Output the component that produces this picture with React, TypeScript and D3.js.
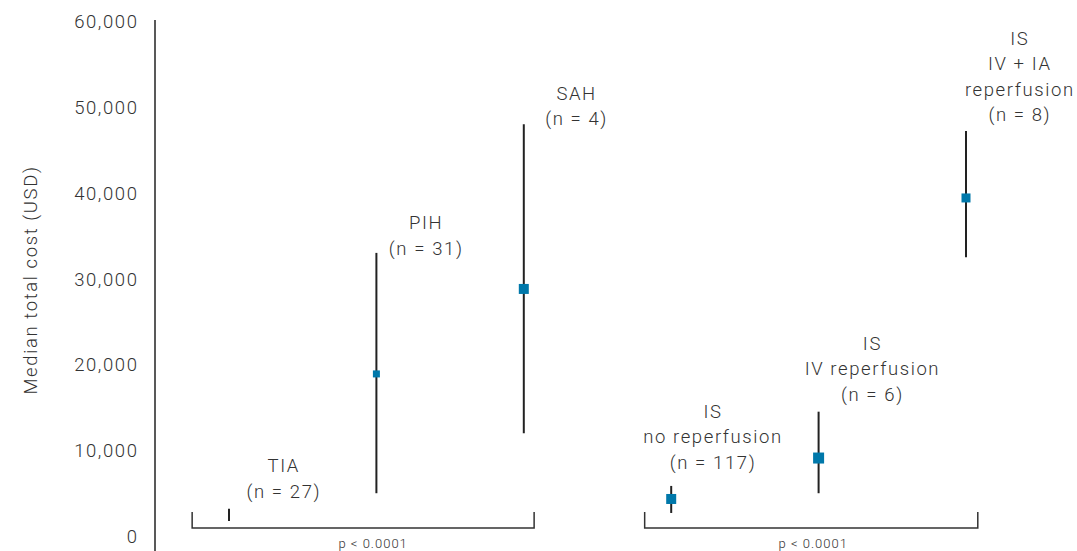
import React from "react";
import * as d3 from "d3";

// ---- data ----
const categories = ["TIA", "PIH", "SAH", "IS no reperfusion", "IS IV reperfusion", "IS IV + IA reperfusion"];
const labelLines: string[][] = [
  ["TIA", "(n = 27)"],
  ["PIH", "(n = 31)"],
  ["SAH", "(n = 4)"],
  ["IS", "no reperfusion", "(n = 117)"],
  ["IS", "IV reperfusion", "(n = 6)"],
  ["IS", "IV + IA", "reperfusion", "(n = 8)"],
];
const medians = [2600, 19000, 28900, 4430, 9200, 39500];
const lowers = [1850, 5100, 12100, 2800, 5100, 32600];
const uppers = [3300, 33100, 48100, 5950, 14600, 47300];
const markerSizes = [0, 7, 10, 10, 11, 9];
const yTicks = [0, 10000, 20000, 30000, 40000, 50000, 60000];
const groups = [
  { label: "p < 0.0001", from: -0.25, to: 2.07 },
  { label: "p < 0.0001", from: 2.82, to: 5.08 },
];
const yAxisTitle = "Median total cost (USD)";

// label layout (pixel offsets)
const labelDx = [54, 49, 52, 41, 53, 53];
const labelDy = [-17, -4, -5, -23, -17, -16];
const groupLabelDx = [10, 2];

const W = 1077;
const H = 551;
const FONT = "Roboto, 'Noto Sans', sans-serif";
const TEXT = "#333";
const BLUE = "#0078AA";
const FS = 18.5;
const LS = 1.6;

export default function App() {
  const x = d3.scaleLinear().domain([0, categories.length - 1]).range([229, 966]);
  const y = d3.scaleLinear().domain([0, 60000]).range([537, 22]);
  const fmt = d3.format(",");
  const lineH = 25.5;

  return (
    <svg width={W} height={H} style={{ position: "absolute", left: 0, top: 0, background: "#fff" }}
      fontFamily={FONT}>
      {/* y axis */}
      <line x1={155} x2={155} y1={20} y2={H} stroke="#222" strokeWidth={1.5} />
      {yTicks.map((t) => (
        <text key={t} x={137 + LS} y={y(t)} textAnchor="end" dominantBaseline="central"
          fontSize={FS} fontWeight={300} letterSpacing={LS} fill={TEXT}>{fmt(t)}</text>
      ))}
      <text transform={`translate(31,${280}) rotate(-90)`} textAnchor="middle" dominantBaseline="central"
        fontSize={FS} fontWeight={300} letterSpacing={LS} fill={TEXT}>{yAxisTitle}</text>

      {/* group brackets */}
      {groups.map((g, i) => {
        const x1 = x(g.from);
        const x2 = x(g.to);
        return (
          <g key={i}>
            <path d={`M${x1},512 V528 H${x2} V512`} fill="none" stroke="#333" strokeWidth={1.5} />
            <text x={(x1 + x2) / 2 + groupLabelDx[i]} y={543} textAnchor="middle" dominantBaseline="central"
              fontSize={13} fontWeight={300} letterSpacing={1} fill={TEXT}>{g.label}</text>
          </g>
        );
      })}

      {/* whiskers and medians */}
      {categories.map((c, i) => {
        const cx = x(i);
        const s = markerSizes[i];
        const top = y(uppers[i]);
        const lines = labelLines[i];
        const lastY = top + labelDy[i];
        return (
          <g key={c}>
            <line x1={cx} x2={cx} y1={y(uppers[i])} y2={y(lowers[i])} stroke="#222" strokeWidth={2} />
            {s > 0 && (
              <rect x={cx - s / 2} y={y(medians[i]) - s / 2} width={s} height={s} fill={BLUE} />
            )}
            {lines.map((l, j) => (
              <text key={j} x={cx + labelDx[i] + LS / 2} y={lastY - (lines.length - 1 - j) * lineH}
                textAnchor="middle" dominantBaseline="central" fontSize={FS} fontWeight={300}
                letterSpacing={LS} fill={TEXT}>{l}</text>
            ))}
          </g>
        );
      })}
    </svg>
  );
}
